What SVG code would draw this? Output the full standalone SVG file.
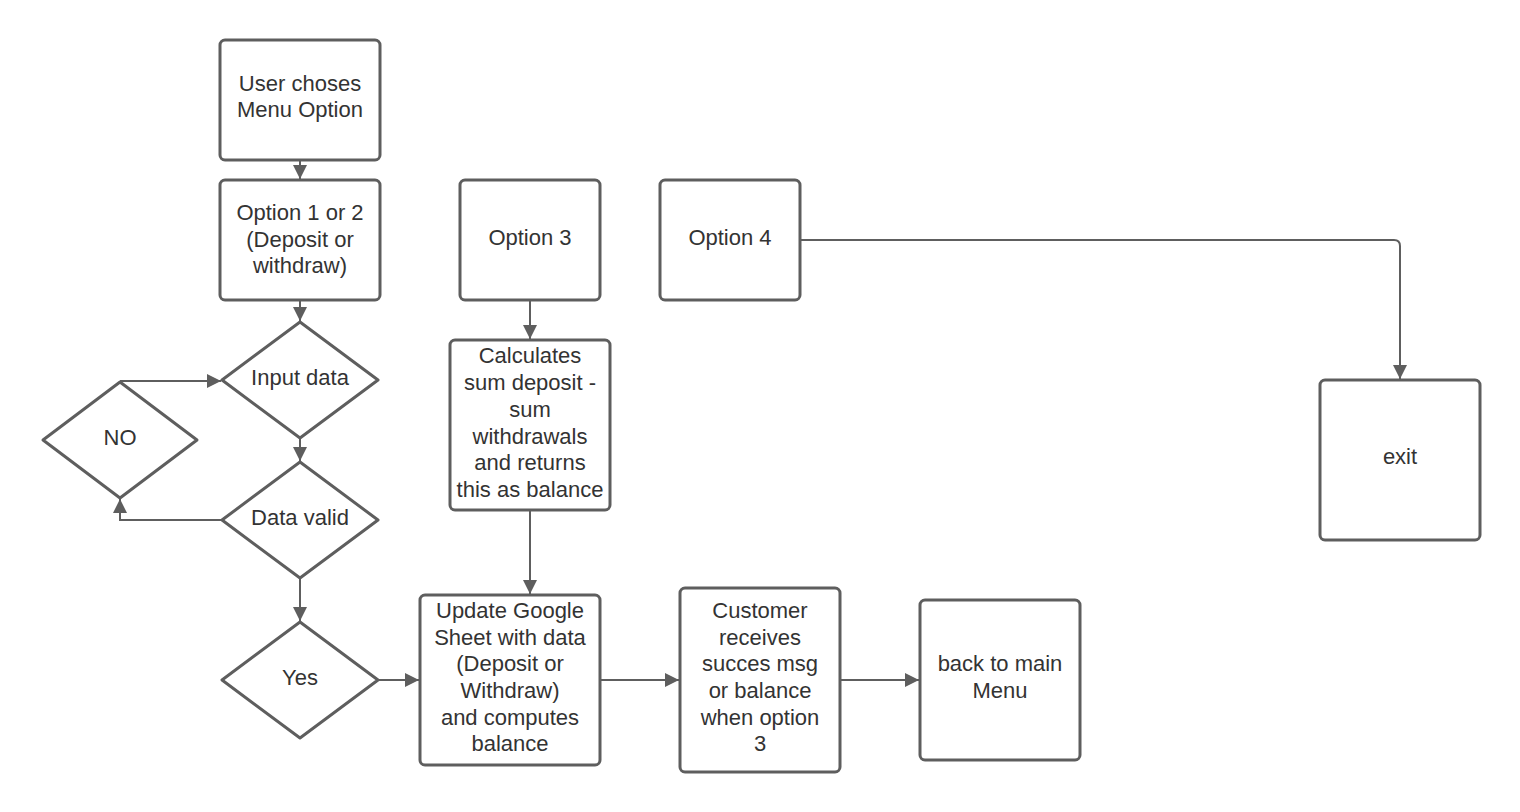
<svg xmlns="http://www.w3.org/2000/svg" width="1520" height="812" viewBox="0 0 1520 812">
<style>
.n{fill:#ffffff;stroke:#5e5e5e;stroke-width:3;stroke-linejoin:round}
.t{font-family:"Liberation Sans",Arial,sans-serif;font-size:22px;fill:#333333;text-anchor:middle}
.c{fill:none;stroke:#5e5e5e;stroke-width:2}
</style>
<defs>
<marker id="ah" viewBox="0 0 14 14" refX="14" refY="7" markerWidth="14" markerHeight="14" markerUnits="userSpaceOnUse" orient="auto">
<path d="M0,0 L14,7 L0,14 Z" fill="#5e5e5e"/>
</marker>
</defs>
<rect width="1520" height="812" fill="#ffffff"/>
<g id="connectors">
<path class="c" d="M300,161 L300,179" marker-end="url(#ah)"/>
<path class="c" d="M300,301 L300,321" marker-end="url(#ah)"/>
<path class="c" d="M300,439 L300,461" marker-end="url(#ah)"/>
<path class="c" d="M300,579 L300,621" marker-end="url(#ah)"/>
<path class="c" d="M222,520 L120,520 L120,499" marker-end="url(#ah)"/>
<path class="c" d="M120,381 L221,381" marker-end="url(#ah)"/>
<path class="c" d="M379,680 L419,680" marker-end="url(#ah)"/>
<path class="c" d="M530,301 L530,339" marker-end="url(#ah)"/>
<path class="c" d="M530,511 L530,594" marker-end="url(#ah)"/>
<path class="c" d="M601,680 L679,680" marker-end="url(#ah)"/>
<path class="c" d="M841,680 L919,680" marker-end="url(#ah)"/>
<path class="c" d="M801,240 L1394,240 Q1400,240 1400,246 L1400,379" marker-end="url(#ah)"/>
</g>
<g id="user-choses">
<rect class="n" x="220" y="40" width="160" height="120" rx="5"/>
<text class="t" x="300" y="91">User choses</text>
<text class="t" x="300" y="117">Menu Option</text>
</g>
<g id="option12">
<rect class="n" x="220" y="180" width="160" height="120" rx="5"/>
<text class="t" x="300" y="220">Option 1 or 2</text>
<text class="t" x="300" y="247">(Deposit or</text>
<text class="t" x="300" y="273">withdraw)</text>
</g>
<g id="option3">
<rect class="n" x="460" y="180" width="140" height="120" rx="5"/>
<text class="t" x="530" y="245">Option 3</text>
</g>
<g id="option4">
<rect class="n" x="660" y="180" width="140" height="120" rx="5"/>
<text class="t" x="730" y="245">Option 4</text>
</g>
<g id="exit">
<rect class="n" x="1320" y="380" width="160" height="160" rx="5"/>
<text class="t" x="1400" y="464">exit</text>
</g>
<g id="input-data">
<path class="n" d="M300,322 L378,380 L300,438 L222,380 Z"/>
<text class="t" x="300" y="385">Input data</text>
</g>
<g id="data-valid">
<path class="n" d="M300,462 L378,520 L300,578 L222,520 Z"/>
<text class="t" x="300" y="525">Data valid</text>
</g>
<g id="no">
<path class="n" d="M120,382 L197,440 L120,498 L43,440 Z"/>
<text class="t" x="120" y="445">NO</text>
</g>
<g id="yes">
<path class="n" d="M300,622 L378,680 L300,738 L222,680 Z"/>
<text class="t" x="300" y="685">Yes</text>
</g>
<g id="calculates">
<rect class="n" x="450" y="340" width="160" height="170" rx="5"/>
<text class="t" x="530" y="363">Calculates</text>
<text class="t" x="530" y="390">sum deposit -</text>
<text class="t" x="530" y="417">sum</text>
<text class="t" x="530" y="444">withdrawals</text>
<text class="t" x="530" y="470">and returns</text>
<text class="t" x="530" y="497">this as balance</text>
</g>
<g id="update">
<rect class="n" x="420" y="595" width="180" height="170" rx="5"/>
<text class="t" x="510" y="618">Update Google</text>
<text class="t" x="510" y="645">Sheet with data</text>
<text class="t" x="510" y="671">(Deposit or</text>
<text class="t" x="510" y="698">Withdraw)</text>
<text class="t" x="510" y="725">and computes</text>
<text class="t" x="510" y="751">balance</text>
</g>
<g id="customer">
<rect class="n" x="680" y="588" width="160" height="184" rx="5"/>
<text class="t" x="760" y="618">Customer</text>
<text class="t" x="760" y="645">receives</text>
<text class="t" x="760" y="671">succes msg</text>
<text class="t" x="760" y="698">or balance</text>
<text class="t" x="760" y="725">when option</text>
<text class="t" x="760" y="751">3</text>
</g>
<g id="back-menu">
<rect class="n" x="920" y="600" width="160" height="160" rx="5"/>
<text class="t" x="1000" y="671">back to main</text>
<text class="t" x="1000" y="698">Menu</text>
</g>
</svg>
